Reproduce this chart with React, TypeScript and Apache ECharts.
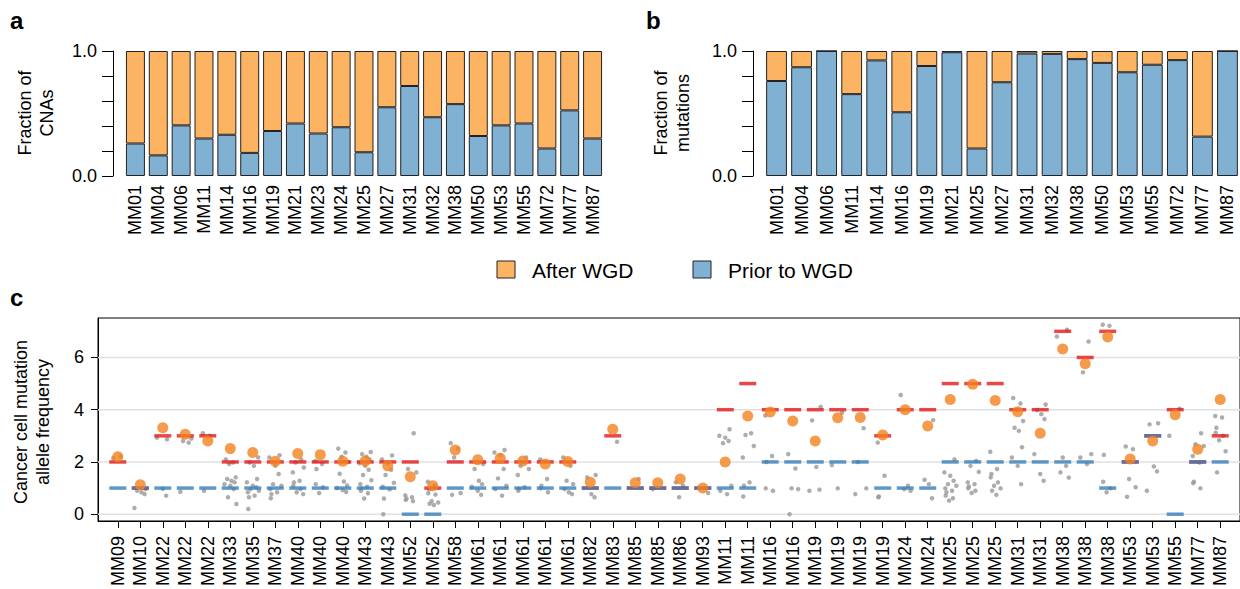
import React, { useEffect, useRef } from "react";
import * as echarts from "echarts";

// ---------- Panel a: fraction of CNAs ----------
const catsA = ["MM01","MM04","MM06","MM11","MM14","MM16","MM19","MM21","MM23","MM24","MM25","MM27","MM31","MM32","MM38","MM50","MM53","MM55","MM72","MM77","MM87"];
const cnaPrior = [0.26,0.165,0.405,0.30,0.33,0.185,0.36,0.42,0.34,0.39,0.19,0.55,0.72,0.47,0.575,0.32,0.405,0.42,0.22,0.525,0.30];
const cnaAfter = [0.74,0.835,0.595,0.70,0.67,0.815,0.64,0.58,0.66,0.61,0.81,0.45,0.28,0.53,0.425,0.68,0.595,0.58,0.78,0.475,0.70];

// ---------- Panel b: fraction of mutations ----------
const catsB = ["MM01","MM04","MM06","MM11","MM14","MM16","MM19","MM21","MM25","MM27","MM31","MM32","MM38","MM50","MM53","MM55","MM72","MM77","MM87"];
const mutPrior = [0.76,0.87,1.0,0.655,0.925,0.51,0.88,0.99,0.22,0.75,0.98,0.977,0.935,0.905,0.83,0.89,0.927,0.315,1.0];
const mutAfter = [0.24,0.13,0.0,0.345,0.075,0.49,0.12,0.01,0.78,0.25,0.02,0.023,0.065,0.095,0.17,0.11,0.073,0.685,0.0];

// ---------- Panel c: cancer cell mutation allele frequency ----------
const catsC = ["MM09","MM10","MM22","MM22","MM22","MM33","MM35","MM37","MM40","MM40","MM40","MM43","MM43","MM52","MM52","MM58","MM61","MM61","MM61","MM61","MM61","MM82","MM83","MM85","MM85","MM86","MM93","MM11","MM11","MM16","MM16","MM19","MM19","MM19","MM19","MM24","MM24","MM25","MM25","MM25","MM31","MM31","MM38","MM38","MM38","MM53","MM53","MM55","MM77","MM87"];
const majorCN = [2,1,3,3,3,2,2,2,2,2,2,2,2,2,1,2,2,2,2,2,2,1,3,1,1,1,1,4,5,4,4,4,4,4,3,4,4,5,5,5,4,4,7,6,7,2,3,4,2,3];
const minorCN = [1,1,1,1,1,1,1,1,1,1,1,1,1,0,0,1,1,1,1,1,1,1,1,1,1,1,1,1,1,2,2,2,2,2,1,1,1,2,2,2,2,2,2,2,1,2,3,0,2,2];
const ccfEst = [2.2,1.13,3.31,3.06,2.8,2.51,2.36,2.03,2.32,2.28,2.03,2.04,1.85,1.43,1.09,2.46,2.08,2.14,2.04,1.92,2.02,1.22,3.25,1.2,1.2,1.35,1.0,2.0,3.76,3.91,3.57,2.8,3.69,3.7,3.03,4.0,3.38,4.39,4.97,4.35,3.92,3.1,6.32,5.76,6.78,2.11,2.8,3.81,2.49,4.39];
const mutCCF: number[][] = [
  [2.15,2.22],
  [0.96,0.9,0.84,0.77,0.24],
  [2.87,2.93,0.97,0.71],
  [2.74,2.8,2.9,0.86],
  [3.1,3.0,0.9],
  [2.1,1.98,1.92,1.41,1.35,1.28,1.22,1.15,1.09,0.96,0.65,0.39],
  [2.17,1.98,1.85,1.35,1.22,1.09,1.03,0.96,0.9,0.84,0.71,0.65,0.2],
  [2.26,2.17,1.85,1.54,1.15,1.09,0.96,0.84,0.77,0.61],
  [2.1,1.98,1.79,1.6,1.28,1.22,1.09,0.96,0.84,0.77],
  [2.04,1.92,1.73,1.15,1.03,0.81],
  [2.51,2.36,2.2,2.0,1.55,1.25,1.1,1.0,0.92,0.85],
  [2.38,2.3,2.2,2.1,1.95,1.85,1.7,1.5,1.3,1.15,1.05,0.98,0.9,0.8,0.6],
  [2.25,2.1,1.95,1.7,1.5,1.2,1.05,0.95,0.6,0.0],
  [3.1,1.73,1.6,0.72,0.65,0.6,0.55,0.5],
  [1.24,1.1,0.95,0.8,0.75,0.5,0.45,0.4,0.35],
  [2.72,2.5,2.17,0.81,0.74],
  [1.92,1.73,1.28,1.15,1.05,0.9,0.74],
  [2.46,2.36,2.26,1.73,1.37,1.09,0.96,0.71],
  [2.17,1.85,1.73,1.5,1.03,0.96,0.9],
  [2.1,1.35,1.09,0.99,0.84],
  [2.17,1.85,1.28,1.15,0.96,0.84,0.77],
  [1.5,1.41,0.77,0.65],
  [2.77],
  [1.35],
  [0.96],
  [1.22,1.09,0.65],
  [0.81],
  [3.25,3.0,2.93,2.8,2.72,1.09,0.9,0.77],
  [3.1,3.03,2.61,2.17,1.22,1.09,0.68],
  [3.78,2.23,2.0,0.99,0.9],
  [2.3,1.75,0.99,0.96,0.0],
  [4.11,3.59,1.81,0.94,0.9],
  [3.88,1.88,0.99],
  [3.29,2.0,0.99,0.77],
  [2.74,1.47,0.68,0.65],
  [4.56,1.09,0.96,0.9],
  [3.6,1.32,1.15,0.61],
  [2.1,1.6,1.47,1.28,1.15,1.09,0.99,0.9,0.84,0.71,0.61,0.52],
  [2.04,1.85,1.62,1.22,1.15,1.06,0.99,0.9,0.81],
  [2.39,1.73,1.54,1.41,1.22,1.09,0.99,0.9,0.74],
  [4.45,4.24,4.0,3.57,3.31,3.19,2.56,2.17,1.85,1.15],
  [4.2,3.99,3.83,3.64,2.3,1.54,1.28],
  [7.06,6.8,2.17,1.85,1.6,1.4],
  [6.61,5.43,2.3,2.17,1.92],
  [7.25,7.21,2.27,1.24,0.99,0.84],
  [2.59,2.49,1.35,1.03,0.67],
  [3.48,3.44,1.83,1.64,0.9],
  [4.04,3.0],
  [3.1,2.68,2.61,2.23,1.98,1.24,1.19,0.99],
  [3.76,3.7,3.31,3.12,3.0,2.83,2.41,1.6],
];
const yTicksC = [0, 2, 4, 6];

const ORANGE = "#FDB462";
const BLUE = "#80B1D3";
const FONT = "'Liberation Sans', Arial, Helvetica, sans-serif";
const X_MIN_C = -0.88;
const X_MAX_C = 49.88;
// horizontal jitter pattern for the gray mutation dots (layout only)
const JITTER = [-0.2, 0.12, -0.05, 0.24, -0.14, 0.05, 0.19, -0.26, 0.0, 0.15, -0.1, 0.27, -0.22, 0.08, -0.17];

export default function App() {
  const ref = useRef<HTMLDivElement>(null);
  useEffect(() => {
    document.body.style.margin = "0";
    if (!ref.current) return;
    const chart = echarts.init(ref.current, null, { renderer: "svg" });

    const grayPts: number[][] = [];
    mutCCF.forEach((vals, i) => {
      vals.forEach((v, k) => {
        grayPts.push([i + JITTER[(k + i * 3) % JITTER.length], v]);
      });
    });

    const barAxisY = (gridIndex: number) => ({
      type: "value",
      gridIndex,
      min: 0,
      max: 1,
      interval: 0.2,
      offset: 11,
      axisLine: { show: true, lineStyle: { color: "#000", width: 1 } },
      axisTick: { show: true, length: 11, lineStyle: { color: "#000", width: 1 } },
      axisLabel: {
        fontSize: 18,
        color: "#000",
        margin: 16,
        fontFamily: FONT,
        formatter: (v: number) => (v === 0 ? "0.0" : v === 1 ? "1.0" : ""),
      },
      splitLine: { show: false },
    });
    const barAxisX = (gridIndex: number, data: string[]) => ({
      type: "category",
      gridIndex,
      data,
      axisLine: { show: false },
      axisTick: { show: false },
      axisLabel: { rotate: 90, fontSize: 18, color: "#000", margin: 9, interval: 0, fontFamily: FONT },
    });
    const barSeries = (name: string, axis: number, data: number[], color: string) => ({
      name,
      type: "bar",
      xAxisIndex: axis,
      yAxisIndex: axis,
      stack: "s" + axis,
      data,
      barCategoryGap: "17%",
      itemStyle: { color, borderColor: "#222", borderWidth: 1 },
      silent: true,
    });

    const idx = catsC.map((_, i) => i);

    const gridLineSeries = yTicksC.map((v) => ({
      type: "line",
      xAxisIndex: 2,
      yAxisIndex: 2,
      data: [[X_MIN_C, v], [X_MAX_C, v]],
      symbol: "none",
      lineStyle: { color: "#e0e0e0", width: 1.5 },
      z: 1,
      silent: true,
    }));

    chart.setOption({
      animation: false,
      textStyle: { fontFamily: FONT },
      grid: [
        { left: 124, top: 51, width: 480, height: 125 },
        { left: 764, top: 51, width: 478, height: 125 },
        { left: 98, top: 318, width: 1154, height: 204, show: true, borderColor: "#000", borderWidth: 1, backgroundColor: "transparent" },
      ],
      xAxis: [
        barAxisX(0, catsA),
        barAxisX(1, catsB),
        {
          type: "value",
          gridIndex: 2,
          min: X_MIN_C,
          max: X_MAX_C,
          axisLine: { show: true, onZero: false, lineStyle: { color: "#000", width: 1 } },
          axisTick: { show: true, customValues: idx, length: 7, lineStyle: { color: "#000" } },
          axisLabel: {
            customValues: idx,
            rotate: 90,
            fontSize: 18,
            color: "#000",
            margin: 15,
            fontFamily: FONT,
            formatter: (v: number) => catsC[Math.round(v)] ?? "",
          },
          splitLine: { show: false },
        },
      ],
      yAxis: [
        barAxisY(0),
        barAxisY(1),
        {
          type: "value",
          gridIndex: 2,
          min: -0.26,
          max: 7.51,
          axisLine: { show: true, onZero: false, lineStyle: { color: "#000", width: 1 } },
          axisTick: { show: true, customValues: yTicksC, length: 7, lineStyle: { color: "#000" } },
          axisLabel: { customValues: yTicksC, fontSize: 18, color: "#000", margin: 14, fontFamily: FONT },
          splitLine: { show: false },
        },
      ],
      series: [
        barSeries("Prior to WGD", 0, cnaPrior, BLUE),
        barSeries("After WGD", 0, cnaAfter, ORANGE),
        barSeries("Prior to WGD", 1, mutPrior, BLUE),
        barSeries("After WGD", 1, mutAfter, ORANGE),
        ...gridLineSeries,
        {
          type: "scatter",
          xAxisIndex: 2,
          yAxisIndex: 2,
          data: grayPts,
          symbolSize: 4.5,
          itemStyle: { color: "#999999" },
          z: 3,
          silent: true,
        },
        {
          type: "scatter",
          xAxisIndex: 2,
          yAxisIndex: 2,
          data: majorCN.map((v, i) => [i, v]),
          symbol: "rect",
          symbolSize: [17, 3.5],
          itemStyle: { color: "#E41A1C" },
          z: 4,
          silent: true,
        },
        {
          type: "scatter",
          xAxisIndex: 2,
          yAxisIndex: 2,
          data: minorCN.map((v, i) => [i, v]),
          symbol: "rect",
          symbolSize: [17, 3.5],
          itemStyle: { color: "#377EB8" },
          z: 5,
          silent: true,
        },
        {
          type: "scatter",
          xAxisIndex: 2,
          yAxisIndex: 2,
          data: ccfEst.map((v, i) => [i, v]),
          symbolSize: 11,
          itemStyle: { color: "#F4821F" },
          z: 6,
          silent: true,
        },
      ],
      graphic: [
        { type: "text", left: 10, top: 8, style: { text: "a", font: `bold 24px ${FONT}`, fill: "#000" } },
        { type: "text", left: 646, top: 8, style: { text: "b", font: `bold 24px ${FONT}`, fill: "#000" } },
        { type: "text", left: 10, top: 285, style: { text: "c", font: `bold 24px ${FONT}`, fill: "#000" } },
        {
          type: "text", x: 36, y: 113, rotation: Math.PI / 2,
          style: { text: "Fraction of\nCNAs", font: `18px ${FONT}`, fill: "#000", align: "center", verticalAlign: "middle", lineHeight: 22 },
        },
        {
          type: "text", x: 672, y: 113, rotation: Math.PI / 2,
          style: { text: "Fraction of\nmutations", font: `18px ${FONT}`, fill: "#000", align: "center", verticalAlign: "middle", lineHeight: 22 },
        },
        {
          type: "text", x: 32, y: 422, rotation: Math.PI / 2,
          style: { text: "Cancer cell mutation\nallele frequency", font: `18px ${FONT}`, fill: "#000", align: "center", verticalAlign: "middle", lineHeight: 22 },
        },
        { type: "rect", shape: { x: 497, y: 261, width: 18, height: 17 }, style: { fill: ORANGE, stroke: "#222", lineWidth: 1 } },
        { type: "text", x: 532, y: 270, style: { text: "After WGD", font: `21px ${FONT}`, fill: "#000", verticalAlign: "middle" } },
        { type: "rect", shape: { x: 693, y: 261, width: 18, height: 17 }, style: { fill: BLUE, stroke: "#222", lineWidth: 1 } },
        { type: "text", x: 728, y: 270, style: { text: "Prior to WGD", font: `21px ${FONT}`, fill: "#000", verticalAlign: "middle" } },
      ],
    });
    return () => chart.dispose();
  }, []);
  return <div ref={ref} style={{ width: 1240, height: 589 }} />;
}
